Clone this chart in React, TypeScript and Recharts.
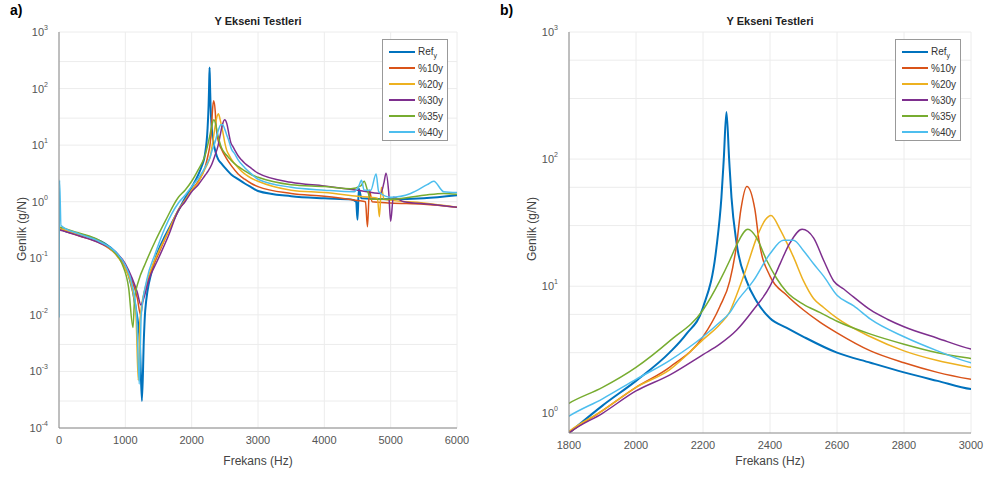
import React from "react";
import { LineChart, Line, XAxis, YAxis, CartesianGrid } from "recharts";

// frequency (Hz) / amplitude (g/N) readings for each test
const refF = [0, 100, 300, 500, 700, 850, 950, 1050, 1150, 1220, 1250, 1280, 1300, 1400, 1500, 1600, 1700, 1800, 1900, 2000, 2100, 2150, 2200, 2240, 2255, 2262, 2270, 2278, 2285, 2300, 2330, 2360, 2400, 2450, 2500, 2600, 2700, 2800, 2900, 3000, 3500, 4000, 4400, 4480, 4500, 4520, 4560, 5000, 5500, 6000];
const refV = [0.35, 0.3, 0.27, 0.23, 0.18, 0.13, 0.09, 0.05, 0.015, 0.003, 0.0003, 0.004, 0.012, 0.06, 0.14, 0.25, 0.42, 0.7, 1.15, 1.8, 3.0, 4.2, 6.8, 20, 50, 100, 235, 100, 50, 22, 11, 7.6, 5.6, 4.7, 4.0, 3.0, 2.5, 2.1, 1.8, 1.55, 1.25, 1.15, 1.1, 1.0, 0.48, 1.7, 1.15, 1.1, 1.15, 1.3];

const p10F = [0, 300, 600, 850, 1000, 1100, 1180, 1230, 1270, 1350, 1500, 1650, 1800, 1900, 2000, 2100, 2200, 2250, 2280, 2300, 2313, 2331, 2355, 2367, 2400, 2450, 2500, 2550, 2600, 2700, 2800, 2900, 3000, 3500, 4000, 4500, 4620, 4650, 4680, 4720, 5000, 5500, 6000];
const p10V = [0.33, 0.25, 0.19, 0.12, 0.07, 0.04, 0.02, 0.01, 0.02, 0.045, 0.12, 0.3, 0.7, 1.05, 1.6, 2.3, 4.0, 6.9, 11, 21, 40, 61, 40, 23, 12, 8.5, 6.5, 5.2, 4.3, 3.1, 2.5, 2.1, 1.85, 1.4, 1.25, 1.05, 1.0, 0.36, 1.6, 1.0, 0.95, 0.9, 0.8];

const p20F = [0, 300, 600, 850, 1000, 1100, 1160, 1195, 1220, 1300, 1400, 1500, 1650, 1800, 1900, 2000, 2100, 2200, 2250, 2280, 2300, 2330, 2360, 2385, 2403, 2430, 2450, 2470, 2500, 2530, 2560, 2600, 2700, 2800, 2900, 3000, 3500, 4000, 4500, 4800, 4830, 4860, 4900, 5500, 6000];
const p20V = [0.34, 0.26, 0.2, 0.12, 0.065, 0.03, 0.01, 0.0007, 0.008, 0.03, 0.07, 0.13, 0.3, 0.72, 1.05, 1.6, 2.2, 3.8, 5.0, 6.3, 8.5, 14, 24, 33, 36, 28, 22, 17, 11, 8, 6.8, 5.6, 4.0, 3.1, 2.6, 2.3, 1.6, 1.45, 1.25, 1.15, 0.54, 1.8, 1.1, 0.95, 0.8];

const p30F = [0, 300, 600, 850, 1000, 1100, 1180, 1235, 1280, 1350, 1500, 1650, 1800, 1900, 2000, 2100, 2200, 2250, 2300, 2350, 2400, 2430, 2460, 2496, 2530, 2560, 2590, 2620, 2650, 2700, 2750, 2800, 2900, 3000, 3500, 4000, 4500, 4850, 4900, 4930, 4970, 5000, 5040, 5200, 5600, 6000];
const p30V = [0.32, 0.25, 0.19, 0.13, 0.08, 0.045, 0.025, 0.015, 0.02, 0.04, 0.1, 0.25, 0.7, 1.0, 1.5, 2.0, 2.9, 3.5, 4.5, 6.5, 10, 15, 22, 28, 24, 16, 11, 9.5, 8.2, 6.5, 5.5, 4.8, 3.9, 3.2, 2.2, 1.9, 1.6, 1.4, 2.2, 3.2, 1.5, 0.45, 1.2, 1.0, 0.9, 0.8];

const p35F = [0, 300, 600, 800, 950, 1050, 1115, 1140, 1200, 1300, 1450, 1600, 1800, 1900, 2000, 2100, 2200, 2250, 2280, 2300, 2334, 2360, 2390, 2420, 2450, 2500, 2550, 2600, 2700, 2800, 2900, 3000, 3500, 4000, 4400, 4550, 4600, 4650, 4700, 5000, 5500, 5800, 6000];
const p35V = [0.36, 0.28, 0.21, 0.14, 0.08, 0.03, 0.006, 0.02, 0.04, 0.08, 0.2, 0.45, 1.2, 1.6, 2.3, 3.7, 6.5, 11, 16, 21, 28, 24, 16, 11.5, 9, 7.2, 6.2, 5.3, 4.2, 3.5, 3.0, 2.7, 2.0, 1.85, 1.7, 1.9, 2.3, 1.6, 1.1, 1.1, 1.3, 1.4, 1.35];

const p40F = [0, 8, 30, 300, 600, 850, 1000, 1100, 1170, 1210, 1240, 1320, 1450, 1600, 1800, 1900, 2000, 2100, 2200, 2250, 2280, 2300, 2350, 2400, 2440, 2470, 2500, 2530, 2560, 2600, 2650, 2700, 2800, 2900, 3000, 3500, 4000, 4450, 4520, 4560, 4600, 4700, 4780, 4820, 5000, 5300, 5550, 5650, 5800, 6000];
const p40V = [0.009, 2.4, 0.38, 0.27, 0.2, 0.13, 0.075, 0.035, 0.01, 0.0006, 0.01, 0.04, 0.12, 0.35, 0.95, 1.3, 1.85, 2.6, 4.0, 5.2, 6.2, 7.5, 11, 18, 23, 23, 19, 15, 12, 8.5, 7.0, 5.5, 4.0, 3.1, 2.5, 1.8, 1.6, 1.5, 1.9, 2.4, 1.6, 1.6, 3.1, 1.5, 1.2, 1.4, 2.0, 2.3, 1.5, 1.45];

const seriesNames = ["Ref", "%10y", "%20y", "%30y", "%35y", "%40y"];
const colors = ["#0072BD", "#D95319", "#EDB120", "#7E2F8E", "#77AC30", "#4DBEEE"];

const ticksA = [0, 1000, 2000, 3000, 4000, 5000, 6000];
const ticksB = [1800, 2000, 2200, 2400, 2600, 2800, 3000];
const logTicksA = [1e-4, 1e-3, 1e-2, 1e-1, 1, 10, 100, 1000];
const logTicksB = [1, 10, 100, 1000];

const zip = (f: number[], v: number[]) => f.map((x, i) => ({ f: x, v: v[i] }));
const series = [
  zip(refF, refV),
  zip(p10F, p10V),
  zip(p20F, p20V),
  zip(p30F, p30V),
  zip(p35F, p35V),
  zip(p40F, p40V),
];

const minorGrid = (lo: number, hi: number) => {
  const out: number[] = [];
  for (let d = -4; d <= 3; d++) {
    for (let k = 1; k <= 9; k++) {
      const v = k * Math.pow(10, d);
      if (v >= lo && v <= hi) out.push(v);
    }
  }
  return out;
};

const FONT = "'Liberation Sans', Arial, sans-serif";
const TICK = "#555";

const LogTick = (props: any) => {
  const { x, y, payload } = props;
  const n = Math.round(Math.log10(payload.value));
  return (
    <text x={x - 3} y={y + 4} textAnchor="end" fontSize={11} fill={TICK} fontFamily={FONT}>
      <tspan>10</tspan>
      <tspan dy={-6} fontSize={7}>{n}</tspan>
    </text>
  );
};

function Legend({ left, top }: { left: number; top: number }) {
  return (
    <div
      style={{
        position: "absolute",
        left,
        top,
        width: 66,
        height: 102,
        border: "1px solid #999",
        background: "#fff",
        fontFamily: FONT,
        fontSize: 10,
        color: "#333",
        boxSizing: "border-box",
        paddingTop: 4,
      }}
    >
      {seriesNames.map((n, i) => (
        <div key={n} style={{ display: "flex", alignItems: "center", height: 16 }}>
          <div style={{ width: 26, height: 2, background: colors[i], marginLeft: 6, marginRight: 3 }} />
          {i === 0 ? (
            <span>
              Ref<sub style={{ fontSize: 7 }}>y</sub>
            </span>
          ) : (
            <span>{n}</span>
          )}
        </div>
      ))}
    </div>
  );
}

function Panel(props: {
  left: number;
  width: number;
  plotLeft: number;
  plotRight: number;
  plotBottom: number;
  xDomain: [number, number];
  xTicks: number[];
  yDomain: [number, number];
  yTicks: number[];
  letter: string;
  legendLeft: number;
}) {
  const { left, width, plotLeft, plotRight, plotBottom, xDomain, xTicks, yDomain, yTicks, letter, legendLeft } = props;
  const yW = 40;
  const xH = 30;
  const center = (plotLeft + plotRight) / 2 - left;
  return (
    <div style={{ position: "absolute", left, top: 0, width, height: 479 }}>
      <LineChart
        width={width}
        height={479}
        margin={{ top: 32, left: plotLeft - left - yW, right: width - (plotRight - left), bottom: 479 - plotBottom - xH }}
      >
        <CartesianGrid
          stroke="#ececec"
          horizontalValues={minorGrid(yDomain[0], yDomain[1])}
          verticalValues={xTicks}
        />
        <XAxis
          type="number"
          dataKey="f"
          domain={xDomain}
          ticks={xTicks}
          allowDataOverflow
          height={xH}
          tickLine={false}
          stroke="#888"
          tick={{ fontSize: 11, fill: TICK, fontFamily: FONT }}
        />
        <YAxis
          type="number"
          scale="log"
          domain={yDomain}
          ticks={yTicks}
          allowDataOverflow
          width={yW}
          tickLine={false}
          stroke="#888"
          tick={<LogTick />}
        />
        {series.map((d, i) => (
          <Line
            key={seriesNames[i]}
            data={d}
            dataKey="v"
            name={seriesNames[i]}
            type="monotone"
            stroke={colors[i]}
            strokeWidth={i === 0 ? 2 : 1.5}
            dot={false}
            isAnimationActive={false}
          />
        ))}
      </LineChart>
      <div style={{ position: "absolute", left: 10, top: 2, fontFamily: FONT, fontWeight: "bold", fontSize: 14 }}>
        {letter}
      </div>
      <div
        style={{
          position: "absolute",
          left: center - 100,
          width: 200,
          top: 15,
          textAlign: "center",
          fontFamily: FONT,
          fontWeight: "bold",
          fontSize: 11,
          color: "#222",
        }}
      >
        Y Ekseni Testleri
      </div>
      <div
        style={{
          position: "absolute",
          left: center - 100,
          width: 200,
          top: 454,
          textAlign: "center",
          fontFamily: FONT,
          fontSize: 12,
          color: "#444",
        }}
      >
        Frekans (Hz)
      </div>
      <div
        style={{
          position: "absolute",
          left: plotLeft - left - 87,
          top: 222,
          width: 100,
          textAlign: "center",
          transform: "rotate(-90deg)",
          fontFamily: FONT,
          fontSize: 12,
          color: "#444",
        }}
      >
        Genlik (g/N)
      </div>
      <Legend left={legendLeft - left} top={39} />
    </div>
  );
}

export default function App() {
  return (
    <div style={{ position: "absolute", left: 0, top: 0, width: 986, height: 479, background: "#fff" }}>
      <Panel
        left={0}
        width={486}
        plotLeft={59}
        plotRight={457}
        plotBottom={428}
        xDomain={[0, 6000]}
        xTicks={ticksA}
        yDomain={[1e-4, 1000]}
        yTicks={logTicksA}
        letter="a)"
        legendLeft={382}
      />
      <Panel
        left={490}
        width={496}
        plotLeft={569}
        plotRight={971}
        plotBottom={433}
        xDomain={[1800, 3000]}
        xTicks={ticksB}
        yDomain={[0.7, 1000]}
        yTicks={logTicksB}
        letter="b)"
        legendLeft={895}
      />
    </div>
  );
}
